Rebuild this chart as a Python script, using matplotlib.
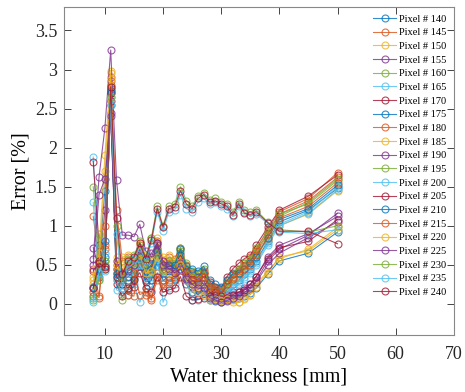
import numpy as np
import matplotlib
matplotlib.use("Agg")
import matplotlib.pyplot as plt
from matplotlib.ticker import FormatStrFormatter

# water thickness [mm]
thickness = [8, 9, 10, 11, 12, 13, 14, 15, 16, 17, 18, 19, 20, 21, 22, 23, 24,
             25, 26, 27, 28, 29, 30, 31, 32, 33, 34, 35, 36, 38, 40, 45, 50]

pixels = [140, 145, 150, 155, 160, 165, 170, 175, 180, 185, 190,
          195, 200, 205, 210, 215, 220, 225, 230, 235, 240]

# error [%] per pixel
err_140 = [0.20, 0.55, 1.45, 2.75, 0.35, 0.25, 0.45, 0.50, 0.62, 0.40, 0.48, 0.70, 0.45, 0.50, 0.48, 0.65, 0.40,
           0.30, 0.32, 0.35, 0.18, 0.15, 0.12, 0.18, 0.25, 0.30, 0.38, 0.45, 0.55, 0.80, 1.05, 1.20, 1.48]
err_145 = [0.45, 0.10, 0.75, 2.90, 1.20, 0.55, 0.60, 0.58, 0.75, 0.55, 0.30, 0.80, 0.55, 0.60, 0.58, 0.72, 0.50,
           0.40, 0.38, 0.42, 0.25, 0.20, 0.18, 0.30, 0.40, 0.45, 0.52, 0.60, 0.70, 0.95, 1.18, 1.35, 1.68]
err_150 = [0.25, 0.70, 0.50, 2.98, 0.55, 0.60, 0.62, 0.55, 0.78, 0.62, 0.55, 0.85, 0.60, 0.62, 0.55, 0.70, 0.48,
           0.38, 0.35, 0.40, 0.22, 0.18, 0.15, 0.20, 0.30, 0.35, 0.42, 0.50, 0.60, 0.82, 1.00, 1.15, 1.45]
err_155 = [0.72, 0.45, 1.20, 2.45, 0.40, 0.30, 0.35, 0.40, 0.55, 0.35, 0.40, 0.62, 0.40, 0.42, 0.38, 0.55, 0.30,
           0.22, 0.18, 0.25, 0.10, 0.08, 0.05, 0.06, 0.10, 0.12, 0.18, 0.22, 0.30, 0.55, 0.70, 0.88, 1.16]
err_160 = [1.50, 0.60, 0.45, 2.70, 0.30, 0.05, 0.20, 0.35, 0.55, 0.45, 0.85, 0.72, 0.50, 0.55, 0.50, 0.68, 0.45,
           0.35, 0.30, 0.35, 0.20, 0.15, 0.12, 0.22, 0.32, 0.40, 0.48, 0.55, 0.65, 0.88, 1.12, 1.30, 1.60]
err_165 = [1.88, 0.50, 0.42, 2.72, 0.18, 0.15, 0.12, 0.25, 0.02, 0.20, 0.18, 0.50, 0.35, 0.45, 0.42, 0.55, 0.35,
           0.25, 0.25, 0.30, 0.15, 0.12, 0.10, 0.15, 0.22, 0.28, 0.35, 0.42, 0.52, 0.78, 1.02, 1.18, 1.50]
err_170 = [1.82, 0.75, 0.48, 2.60, 0.25, 0.10, 0.18, 0.22, 0.70, 0.30, 0.45, 0.78, 0.48, 0.52, 0.45, 0.62, 0.42,
           0.32, 0.35, 0.40, 0.28, 0.22, 0.20, 0.35, 0.45, 0.52, 0.58, 0.62, 0.75, 0.98, 1.20, 1.38, 1.65]
err_175 = [0.10, 0.35, 0.60, 2.55, 0.45, 0.35, 0.30, 0.32, 0.48, 0.28, 0.30, 0.55, 0.30, 0.35, 0.32, 0.48, 0.25,
           0.15, 0.12, 0.18, 0.05, 0.04, 0.03, 0.05, 0.06, 0.08, 0.10, 0.14, 0.20, 0.38, 0.55, 0.65, 0.92]
err_180 = [1.12, 0.55, 0.70, 2.85, 0.50, 0.40, 0.12, 0.10, 0.65, 0.12, 0.05, 0.40, 0.20, 0.30, 0.35, 0.60, 0.45,
           0.38, 0.35, 0.38, 0.20, 0.18, 0.15, 0.25, 0.35, 0.42, 0.50, 0.55, 0.68, 0.90, 1.15, 1.32, 1.62]
err_185 = [0.30, 0.65, 1.90, 2.95, 0.60, 0.50, 0.55, 0.52, 0.65, 0.45, 0.50, 0.70, 0.50, 0.52, 0.48, 0.60, 0.38,
           0.28, 0.22, 0.28, 0.12, 0.10, 0.08, 0.07, 0.05, 0.02, 0.08, 0.12, 0.25, 0.42, 0.58, 0.70, 0.98]
err_190 = [0.58, 1.63, 2.25, 3.25, 1.58, 0.88, 0.88, 0.86, 1.02, 0.68, 0.60, 0.78, 0.55, 0.50, 0.45, 0.52, 0.35,
           0.30, 0.28, 0.30, 0.15, 0.12, 0.10, 0.12, 0.15, 0.15, 0.20, 0.25, 0.35, 0.60, 0.75, 0.90, 1.12]
err_195 = [0.05, 0.90, 0.55, 2.78, 0.40, 0.30, 0.50, 0.45, 0.58, 0.50, 0.40, 0.65, 0.42, 0.48, 0.52, 0.72, 0.52,
           0.42, 0.40, 0.45, 0.25, 0.20, 0.18, 0.28, 0.38, 0.45, 0.52, 0.58, 0.72, 0.92, 1.15, 1.28, 1.58]
err_200 = [1.30, 0.30, 0.50, 2.65, 0.30, 0.20, 0.40, 0.42, 0.50, 0.35, 0.35, 0.60, 0.02, 0.20, 0.25, 0.45, 0.30,
           0.05, 0.05, 0.10, 0.08, 0.10, 0.08, 0.15, 0.20, 0.25, 0.32, 0.40, 0.50, 0.75, 1.00, 1.16, 1.46]
err_205 = [0.42, 0.55, 0.45, 2.70, 0.35, 0.25, 0.20, 0.30, 0.40, 0.20, 0.15, 0.35, 0.15, 0.18, 0.20, 0.35, 0.10,
           0.05, 0.06, 0.08, 0.10, 0.15, 0.10, 0.08, 0.12, 0.15, 0.18, 0.25, 0.35, 0.58, 0.72, 0.80, 1.08]
err_210 = [0.22, 0.45, 0.80, 2.72, 0.38, 0.30, 0.42, 0.48, 0.60, 0.42, 0.50, 0.68, 0.45, 0.48, 0.50, 0.70, 0.48,
           0.45, 0.42, 0.48, 0.30, 0.25, 0.22, 0.30, 0.38, 0.40, 0.45, 0.52, 0.60, 0.85, 1.08, 1.22, 1.52]
err_215 = [0.15, 0.08, 1.00, 2.80, 0.45, 0.35, 0.48, 0.40, 0.12, 0.15, 0.08, 0.30, 0.25, 0.28, 0.30, 0.50, 0.38,
           0.30, 0.30, 0.35, 0.22, 0.20, 0.15, 0.25, 0.32, 0.38, 0.45, 0.50, 0.62, 0.85, 1.10, 1.25, 1.55]
err_220 = [0.35, 0.50, 1.70, 2.88, 0.50, 0.45, 0.50, 0.48, 0.62, 0.40, 0.42, 0.60, 0.45, 0.40, 0.38, 0.50, 0.30,
           0.20, 0.15, 0.12, 0.05, 0.06, 0.04, 0.06, 0.03, 0.02, 0.06, 0.12, 0.22, 0.40, 0.60, 0.68, 0.95]
err_225 = [0.50, 1.40, 1.60, 2.40, 0.55, 0.40, 0.45, 0.50, 0.70, 0.55, 0.65, 0.75, 0.50, 0.45, 0.40, 0.45, 0.32,
           0.25, 0.20, 0.20, 0.08, 0.05, 0.02, 0.04, 0.08, 0.10, 0.15, 0.20, 0.28, 0.50, 0.65, 0.85, 1.05]
err_230 = [0.08, 0.30, 0.55, 2.65, 1.00, 0.30, 0.58, 0.62, 0.80, 0.60, 0.85, 1.25, 1.00, 1.25, 1.28, 1.50, 1.32,
           1.25, 1.38, 1.42, 1.33, 1.35, 1.30, 1.28, 1.18, 1.30, 1.20, 1.18, 1.20, 1.05, 0.95, 0.92, 1.00]
err_235 = [0.02, 0.40, 0.65, 2.55, 0.90, 0.20, 0.52, 0.58, 0.72, 0.55, 0.78, 1.18, 0.93, 1.18, 1.20, 1.40, 1.22,
           1.18, 1.30, 1.35, 1.28, 1.30, 1.25, 1.22, 1.12, 1.25, 1.18, 1.12, 1.15, 1.03, 0.92, 0.90, 0.95]
err_240 = [0.20, 0.52, 0.47, 2.78, 1.10, 0.38, 0.55, 0.60, 0.78, 0.58, 0.82, 1.22, 0.98, 1.22, 1.24, 1.45, 1.28,
           1.22, 1.35, 1.40, 1.30, 1.32, 1.28, 1.25, 1.14, 1.28, 1.16, 1.14, 1.18, 1.04, 0.93, 0.93, 0.77]

errors = [err_140, err_145, err_150, err_155, err_160, err_165, err_170,
          err_175, err_180, err_185, err_190, err_195, err_200, err_205,
          err_210, err_215, err_220, err_225, err_230, err_235, err_240]

# matlab default line colours
colors = ["#0072BD", "#D95319", "#EDB120", "#7E2F8E", "#77AC30", "#4DBEEE", "#A2142F"]

plt.rcParams['font.family'] = ['Liberation Serif', 'DejaVu Serif']

fig = plt.figure(figsize=(4.65, 3.92), dpi=100)
ax = fig.add_axes([0.138, 0.145, 0.838, 0.837])

for i, (p, e) in enumerate(zip(pixels, errors)):
    ax.plot(thickness, e, '-o', color=colors[i % 7], lw=0.8, ms=5,
            mfc='none', mew=0.8, alpha=0.8, label='Pixel # %d' % p)

ax.set_xlim(3, 70)
ax.set_ylim(-0.4, 3.8)
ax.set_xticks([10, 20, 30, 40, 50, 60, 70])
ax.set_yticks(np.arange(0, 3.51, 0.5))
ax.yaxis.set_major_formatter(FormatStrFormatter('%g'))
ax.tick_params(direction='in', top=True, right=True, length=5, width=0.6,
               labelsize=13, colors='#262626')
ax.tick_params(axis='x', pad=8)
ax.tick_params(axis='y', pad=5)
for s in ax.spines.values():
    s.set_color('#888888')
    s.set_linewidth(0.8)

ax.set_xlabel('Water thickness [mm]', fontsize=14.5, labelpad=3)
ax.set_ylabel('Error [%]', fontsize=14.5, labelpad=3)

ax.legend(loc='upper right', frameon=False, fontsize=7.5, handlelength=2.2,
          handletextpad=0.3, labelspacing=0.42, borderaxespad=0.3)

fig.savefig('out.png', dpi=100)
